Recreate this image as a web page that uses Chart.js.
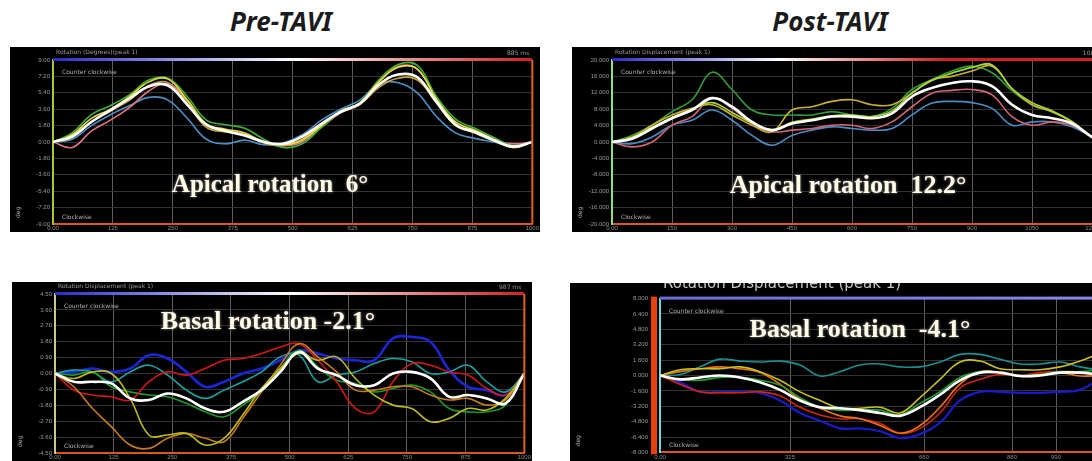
<!DOCTYPE html>
<html>
<head>
<meta charset="utf-8">
<script src="https://cdn.jsdelivr.net/npm/chart.js@4.4.1/dist/chart.umd.min.js"></script>
<style>
  html, body { margin: 0; padding: 0; background: #fff; width: 1092px; height: 461px; overflow: hidden; }
  .box { position: absolute; background: #000; }
  .ttl { position: absolute; top: 3px; width: 200px; text-align: center; font: italic bold 26px "Noto Sans", sans-serif; color: #1b1b1b; }
</style>
</head>
<body>
<div class="ttl" style="left:181px">Pre-TAVI</div>
<div class="ttl" style="left:730px">Post-TAVI</div>
<div class="box" style="left:10px;top:47px;width:530px;height:185px"><canvas id="c1"></canvas></div>
<div class="box" style="left:572px;top:47px;width:540px;height:185px"><canvas id="c2"></canvas></div>
<div class="box" style="left:12px;top:282px;width:520px;height:185px"><canvas id="c3"></canvas></div>
<div class="box" style="left:570px;top:283px;width:552px;height:185px"><canvas id="c4"></canvas></div>
<script>
// ---- Pre-TAVI apical (deg) ----
const timeApicalPre = [0,40,80,120,160,200,240,280,320,360,400,440,480,520,560,600,640,680,720,760,800,840,880,920,960,1000];
const apPreWhite  = [0,0.6,2.2,3.5,4.8,6.1,6.2,4.1,1.9,1.2,0.7,0,-0.2,0.6,2.0,3.3,4.2,6.3,7.4,7.1,4.4,1.9,1.1,0.2,-0.5,0];
const apPreGreen  = [0,1.0,3.0,4.0,5.2,6.8,7.0,5.0,2.4,1.9,1.5,0.3,-0.6,-0.2,1.6,3.3,4.3,6.8,8.5,8.4,5.0,2.5,1.5,0.5,-0.4,0];
const apPreYellow = [0,0.8,2.6,3.6,5.0,6.6,6.9,4.6,2.0,1.4,1.0,0,-0.3,0.2,1.8,3.4,4.3,6.6,8.2,8.0,4.7,2.2,1.3,0.3,-0.6,0];
const apPrePink   = [0,-0.6,1.2,2.4,3.8,5.6,6.4,4.6,1.9,1.3,0.8,0.1,-0.4,0,1.6,3.2,4.2,6.8,8.3,8.0,4.8,2.0,1.0,0.2,-0.2,0];
const apPreBlue   = [0,0.3,1.8,3.0,4.0,4.9,4.6,2.6,0.3,-0.2,0.2,-0.3,-0.1,0.8,2.4,3.6,4.6,6.4,6.5,5.4,2.8,1.0,0.4,0,-0.4,0];
const apPreOlive  = [0,0.5,2.2,3.4,4.6,6.2,6.5,4.3,1.6,1.1,0.8,-0.1,-0.4,0.3,1.9,3.2,4.1,6.0,7.0,6.8,4.3,1.8,1.0,0.1,-0.6,0];
const yTicksApicalPre = [9,7.2,5.4,3.6,1.8,0,-1.8,-3.6,-5.4,-7.2,-9];
const xTicksApicalPre = [0,125,250,375,500,625,750,875,1000];

// ---- Post-TAVI apical (deg) ----
const timeApicalPost = [0,50,100,150,200,250,300,350,400,450,500,550,600,650,700,750,800,850,900,950,1000,1050,1100,1150,1200,1250];
const apPostWhite  = [0,0.8,3.3,5.8,7.8,10.7,8.6,4.9,2.9,4.5,5.3,6.2,6.2,5.8,7.0,11.1,13.2,14.4,14.8,13.6,9.1,6.6,5.8,4.5,1.2,-1.5];
const apPostGreen  = [0,1.6,4.1,7.4,10.3,17.0,12.8,7.8,6.6,6.6,6.6,7.4,6.6,6.2,8.2,12.8,15.2,17.3,18.5,16.9,12.5,9.1,7.4,4.9,1.2,-1.5];
const apPostYellow = [0,1.2,4.1,6.6,8.2,9.1,6.6,4.1,2.5,7.8,8.6,9.9,10.3,9.1,9.1,11.9,15.2,16.0,17.3,18.5,13.0,9.1,7.4,4.9,1.2,-1.5];
const apPostLime   = [0,1.0,3.6,6.0,8.0,9.6,7.2,4.6,3.0,4.8,5.6,6.4,6.6,6.2,7.6,12.0,15.0,16.8,18.2,18.8,13.0,9.6,7.6,5.0,1.2,-1.5];
const apPostPink   = [0,-1.2,0,4.1,6.2,10.7,8.2,4.5,2.5,2.9,3.3,4.1,4.1,3.3,4.9,8.6,11.9,12.6,12.8,11.5,6.2,4.1,4.9,4.1,1.2,-1.5];
const apPostBlue   = [0,-0.4,1.2,4.1,5.3,7.8,5.3,1.6,-0.8,1.6,2.9,3.7,3.3,2.9,3.3,6.6,9.5,9.9,9.6,8.2,4.1,4.9,4.9,3.7,1.2,-1.5];
const yTicksApicalPost = [20,16,12,8,4,0,-4,-8,-12,-16,-20];
const xTicksApicalPost = [0,150,300,450,600,750,900,1050,1200];

// ---- Pre-TAVI basal (deg) ----
const timeBasalPre = [0,40,80,120,160,200,240,280,320,360,400,440,480,520,560,600,640,680,720,760,800,840,880,920,960,1000];
const baPreWhite  = [0,-0.47,-0.47,-0.56,-1.41,-1.5,-1.13,-1.41,-1.98,-2.17,-1.6,-0.94,0.09,1.22,0.28,-0.09,-0.66,-0.66,0,0.09,-0.28,-1.32,-1.22,-1.41,-1.69,0];
const baPreBlue   = [0,0.09,0.28,0.09,0.28,1.04,0.85,0.09,-0.75,-0.47,0,0.28,0.75,1.32,1.13,0.85,0.75,0.75,1.98,2.07,1.79,0.19,-0.75,-0.94,-1.22,0];
const baPreTeal   = [0,0.19,0.09,-0.47,0.09,0.47,-0.09,-0.94,-1.41,-0.94,-0.47,0.09,0.94,1.04,-0.47,-0.09,0.09,0.56,0.85,0.66,0,0.09,0.47,-0.47,-1.04,0];
const baPreRed    = [0,-0.94,-1.22,-1.32,-1.5,-0.47,0.09,-0.09,0.28,0.75,0.85,1.13,1.5,1.69,0.75,-0.47,-1.98,-2.17,-0.47,0.56,0.47,0.09,-0.09,-0.85,-1.22,0];
const baPreGreen  = [0,-0.09,0.09,-0.75,-1.04,-1.22,-1.32,-1.69,-2.17,-2.45,-1.79,-1.04,0.28,1.32,0.38,-0.38,-0.56,-1.04,-0.85,-0.66,-1.04,-1.98,-2.17,-2.17,-1.79,0];
const baPreYellow = [0,-0.28,0.09,0,-1.41,-3.48,-3.48,-3.39,-4.05,-3.67,-2.35,-0.85,0.28,1.13,0.75,0.94,-0.28,-1.22,-1.79,-1.98,-2.73,-2.54,-1.98,-2.07,-1.41,0];
const baPreOrange = [0,-0.75,-1.98,-3.01,-4.05,-4.24,-3.67,-3.39,-3.67,-3.86,-2.54,-1.04,0.47,1.69,0.94,0.09,-0.94,-0.94,-0.75,-0.75,-1.22,-1.5,-1.41,-1.79,-1.5,0];
const yTicksBasalPre = [4.5,3.6,2.7,1.8,0.9,0,-0.9,-1.8,-2.7,-3.6,-4.5];
const xTicksBasalPre = [0,125,250,375,500,625,750,875,1000];

// ---- Post-TAVI basal (deg) ----
const timeBasalPost = [0,50,100,150,200,250,300,350,400,450,500,550,600,650,700,750,800,850,900,950,1000,1050,1100,1150];
const baPostWhite  = [0,-0.4,-0.2,0,-0.2,-0.7,-1.5,-2.6,-3.3,-3.4,-3.6,-3.9,-4.2,-3.3,-2.0,-0.5,0.3,0.3,-0.06,0,0.3,0.3,0.1,0.1];
const baPostTeal   = [0,0.1,0.9,1.7,1.5,1.4,1.5,1.1,-0.06,0.4,1.1,1.2,0.9,0.9,1.4,2.2,2.2,1.7,1.2,1.2,1.4,0.9,0.6,0.5];
const baPostYellow = [0,0.6,0.7,0.7,0.9,0.4,-0.5,-1.7,-2.6,-3.4,-3.4,-3.3,-3.9,-2.3,-0.4,1.4,1.5,0.7,0.6,0.6,0.9,1.5,2.3,2.8];
const baPostOrange = [0,0.4,0.7,0.9,0.7,0.3,-0.9,-2.5,-3.4,-4.2,-4.5,-5.2,-6.0,-5.2,-3.3,-0.9,0.4,0.3,-0.06,0.1,0.3,-0.06,0,0];
const baPostRed    = [0,-0.9,-1.7,-1.8,-1.8,-1.7,-2.1,-3.3,-4.1,-4.5,-4.5,-5.0,-6.0,-5.5,-3.9,-1.3,-0.4,0.1,0,0.3,0.4,0.3,0,0];
const baPostBlue   = [0,-0.7,-1.7,-1.7,-1.7,-1.8,-2.6,-3.9,-4.7,-5.5,-5.5,-5.8,-6.5,-6.1,-4.9,-2.6,-1.7,-1.7,-1.8,-1.8,-1.7,-1.5,-0.4,0.2];
const baPostGreen  = [0,-0.4,-0.5,-0.2,-0.2,-0.5,-1.0,-2.3,-3.3,-3.6,-3.6,-3.6,-4.1,-2.9,-1.7,-0.2,0.4,0.3,0,0.1,0.4,0.4,0.6,0.7];
const yTicksBasalPost = [8,6.4,4.8,3.2,1.6,0,-1.6,-3.2,-4.8,-6.4,-8];
const xTicksBasalPost = [0,325,660,880,990];

// linhas de fundo, barra de cor e textos pequenos do aparelho
const decor = {
  id: 'decor',
  afterDraw(chart, args, o) {
    const ctx = chart.ctx, a = chart.chartArea;
    ctx.save();
    const g = ctx.createLinearGradient(a.left, 0, a.right, 0);
    o.bar.forEach((c, i) => g.addColorStop(i / (o.bar.length - 1), c));
    ctx.fillStyle = g;
    ctx.fillRect(a.left, a.top - 2, a.right - a.left, 3);
    ctx.fillStyle = '#e0601c';
    ctx.fillRect(a.right - 1, a.top, 2, a.bottom - a.top);
    if (o.leftBar) {
      ctx.fillStyle = '#e8400c';
      ctx.fillRect(a.left - 9, a.top - 2, 6, a.bottom - a.top + 4);
    }
    ctx.fillStyle = o.headColor || '#9a9a9a';
    ctx.font = o.headFont || '6px "DejaVu Sans"';
    ctx.fillText(o.head, a.left + 3, o.headY);
    ctx.fillStyle = '#9a9a9a';
    ctx.font = '6px "DejaVu Sans"';
    ctx.textAlign = 'right';
    if (o.ms) ctx.fillText(o.ms, a.right - 3, a.top - 5);
    ctx.textAlign = 'left';
    ctx.fillStyle = '#b0b0b0';
    ctx.fillText(o.ccw, a.left + 9, a.top + 14);
    ctx.fillText('Clockwise', a.left + 9, a.bottom - 5);
    ctx.save();
    ctx.translate(10, a.bottom - 6);
    ctx.rotate(-Math.PI / 2);
    ctx.fillText('deg', 0, 0);
    ctx.restore();
    ctx.font = o.font;
    ctx.textAlign = 'center';
    ctx.textBaseline = 'middle';
    ctx.shadowColor = 'rgba(190,190,190,0.8)';
    ctx.shadowBlur = 3;
    ctx.fillStyle = '#fffbe6';
    ctx.fillText(o.label, o.lx, o.ly);
    ctx.restore();
  }
};

function serie(time, vals, color, width) {
  return {
    data: time.map((t, i) => ({ x: t, y: vals[i] })),
    borderColor: color,
    borderWidth: width || 1.6,
    pointRadius: 0,
    tension: 0.4,
    fill: false
  };
}

function makeChart(id, cfg) {
  return new Chart(document.getElementById(id), {
    type: 'line',
    data: { datasets: cfg.datasets },
    options: {
      responsive: true,
      maintainAspectRatio: false,
      animation: false,
      layout: { padding: cfg.padding },
      plugins: { legend: { display: false }, tooltip: { enabled: false }, decor: cfg.decor },
      scales: {
        x: {
          type: 'linear', min: cfg.xMin, max: cfg.xMax,
          afterBuildTicks: s => { s.ticks = cfg.xTicks.map(v => ({ value: v })); },
          afterFit: s => { s.height = 8; },
          grid: { color: '#5e5e5e', lineWidth: 1, drawTicks: false },
          border: { color: '#d8581c', width: 2 },
          ticks: { color: '#8a8a8a', font: { size: 6 }, padding: 1, maxRotation: 0,
                   callback: v => v === 0 ? '0.00' : String(v) }
        },
        y: {
          min: cfg.yTicks[cfg.yTicks.length - 1], max: cfg.yTicks[0],
          afterBuildTicks: s => { s.ticks = cfg.yTicks.map(v => ({ value: v })); },
          afterFit: s => { s.width = cfg.yWidth; },
          grid: { color: '#333333', lineWidth: 1, drawTicks: false },
          border: { color: cfg.axisColor, width: 2 },
          ticks: { color: '#9a9a9a', font: { size: 6 }, padding: cfg.yPad || 3,
                   callback: v => v.toFixed(cfg.dec) }
        }
      }
    },
    plugins: [decor]
  });
}

makeChart('c1', {
  datasets: [
    serie(timeApicalPre, apPreWhite, '#ffffff', 2.6),
    serie(timeApicalPre, apPreYellow, '#e6df3c'),
    serie(timeApicalPre, apPreGreen, '#3fae3c'),
    serie(timeApicalPre, apPrePink, '#e07484'),
    serie(timeApicalPre, apPreOlive, '#c9a23c'),
    serie(timeApicalPre, apPreBlue, '#4b8fc6')
  ],
  padding: { top: 13, right: 2, left: 0, bottom: 0 },
  xMin: 0, xMax: 1000, xTicks: xTicksApicalPre,
  yTicks: yTicksApicalPre, yWidth: 43, dec: 2, axisColor: '#a8c832',
  decor: { bar: ['#2a2ac8', '#ffffff', '#d02020'], head: 'Rotation (Degrees)(peak 1)', headY: 7,
           ms: '885 ms', ccw: 'Counter clockwise', label: 'Apical rotation  6°',
           font: 'bold 25px "Liberation Serif"', lx: 260, ly: 139 }
});

makeChart('c2', {
  datasets: [
    serie(timeApicalPost, apPostWhite, '#ffffff', 2.6),
    serie(timeApicalPost, apPostLime, '#a6d43c'),
    serie(timeApicalPost, apPostYellow, '#c9b030'),
    serie(timeApicalPost, apPostGreen, '#2f9d38'),
    serie(timeApicalPost, apPostPink, '#d06474'),
    serie(timeApicalPost, apPostBlue, '#4a8cc6')
  ],
  padding: { top: 13, right: 0, left: 0, bottom: 0 },
  xMin: 0, xMax: 1250, xTicks: xTicksApicalPost,
  yTicks: yTicksApicalPost, yWidth: 40, dec: 3, axisColor: '#8ee08e',
  decor: { bar: ['#2a2ac8', '#ffffff', '#d02020', '#d02020'], head: 'Rotation Displacement (peak 1)', headY: 7,
           ms: '1084 ms', ccw: 'Counter clockwise', label: 'Apical rotation  12.2°',
           font: 'bold 26px "Liberation Serif"', lx: 276, ly: 139 }
});

makeChart('c3', {
  datasets: [
    serie(timeBasalPre, baPreWhite, '#ffffff', 2.6),
    serie(timeBasalPre, baPreYellow, '#bcba1c'),
    serie(timeBasalPre, baPreOrange, '#c87a1c'),
    serie(timeBasalPre, baPreRed, '#d41818'),
    serie(timeBasalPre, baPreGreen, '#1c9a2a'),
    serie(timeBasalPre, baPreTeal, '#1aa2a2'),
    serie(timeBasalPre, baPreBlue, '#1c26d8', 2.6)
  ],
  padding: { top: 12, right: 7, left: 0, bottom: 6 },
  xMin: 0, xMax: 1000, xTicks: xTicksBasalPre,
  yTicks: yTicksBasalPre, yWidth: 43, dec: 2, axisColor: '#c8c88c',
  decor: { bar: ['#2a2ac8', '#ffffff', '#d02020'], head: 'Rotation Displacement (peak 1)', headY: 6,
           ms: '987 ms', ccw: 'Counter clockwise', label: 'Basal rotation -2.1°',
           font: 'bold 26px "Liberation Serif"', lx: 256, ly: 40 }
});

makeChart('c4', {
  datasets: [
    serie(timeBasalPost, baPostWhite, '#ffffff', 2.6),
    serie(timeBasalPost, baPostGreen, '#22a032'),
    serie(timeBasalPost, baPostYellow, '#c8c020'),
    serie(timeBasalPost, baPostOrange, '#ec7412'),
    serie(timeBasalPost, baPostRed, '#d42410'),
    serie(timeBasalPost, baPostBlue, '#1a1ac8', 2.2),
    serie(timeBasalPost, baPostTeal, '#1a9090')
  ],
  padding: { top: 10, right: 2, left: 0, bottom: 0 },
  xMin: 0, xMax: 1150, xTicks: xTicksBasalPost,
  yTicks: yTicksBasalPost, yWidth: 90, yPad: 12, dec: 3, axisColor: '#70d8d8',
  decor: { bar: ['#6c6cd8', '#8a8ae6'], head: 'Rotation Displacement (peak 1)', headY: 5,
           headFont: '15px "DejaVu Sans"', headColor: '#c8c8c8', leftBar: true,
           ms: '', ccw: 'Counter clockwise', label: 'Basal rotation  -4.1°',
           font: 'bold 26px "Liberation Serif"', lx: 290, ly: 47 }
});
</script>
</body>
</html>
